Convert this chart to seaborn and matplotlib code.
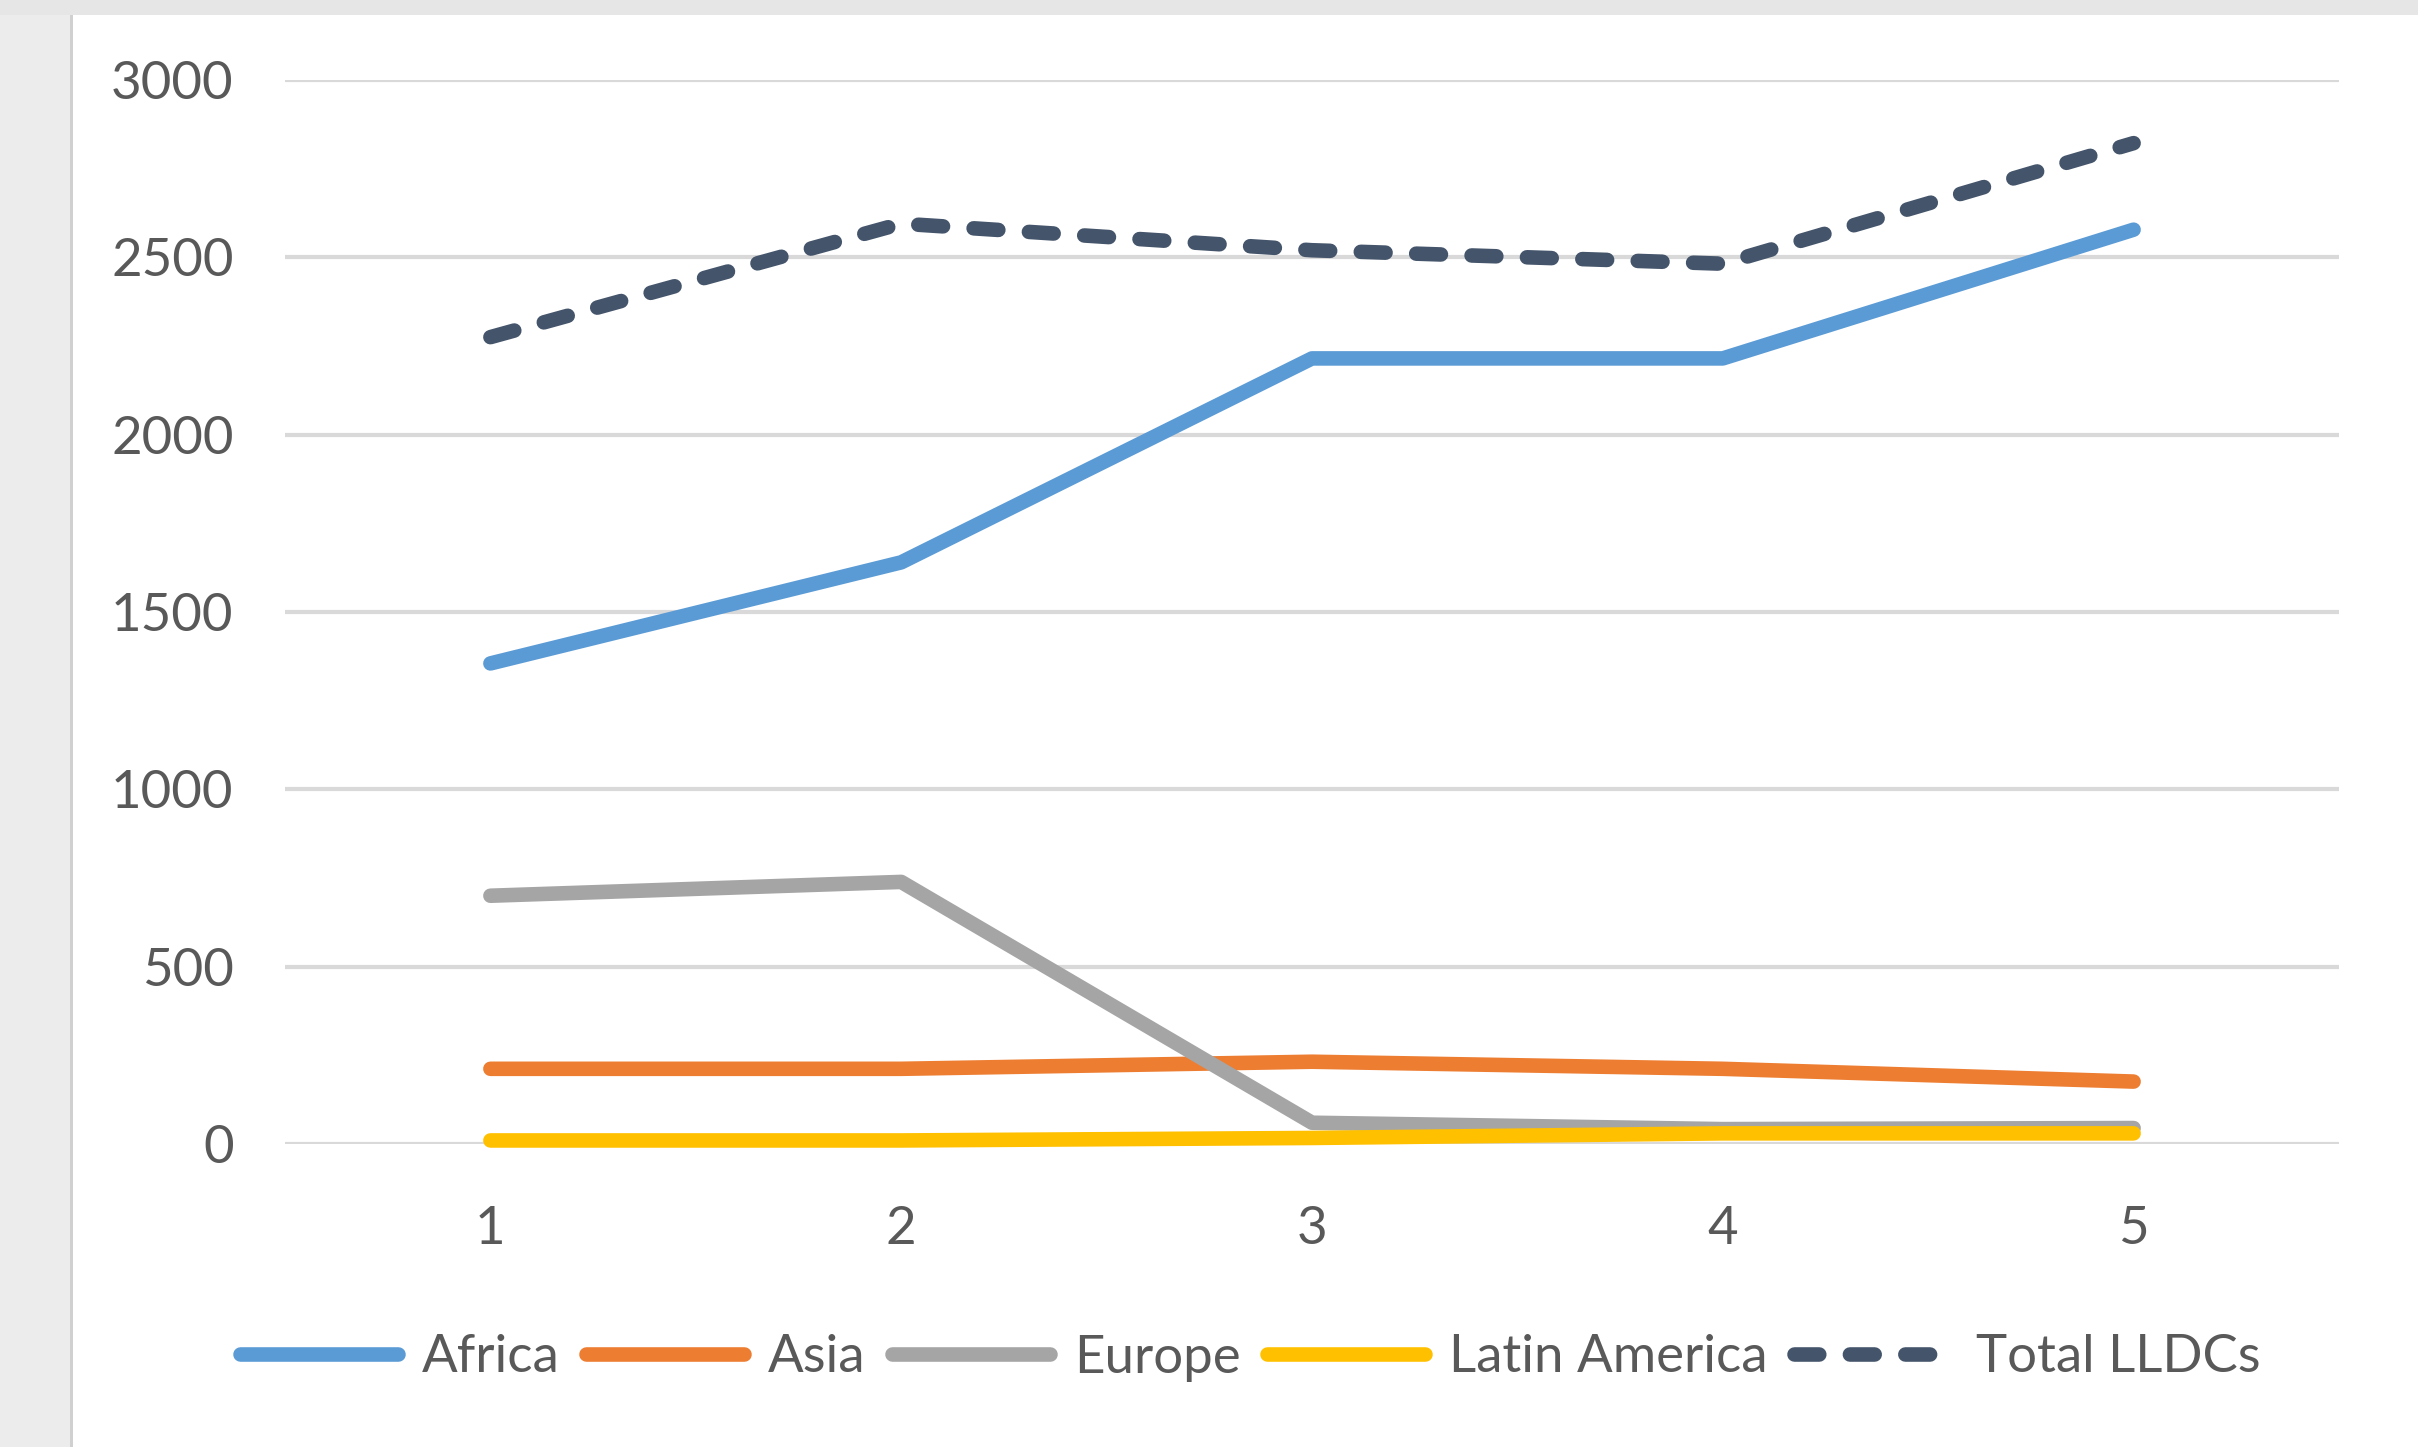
import matplotlib
matplotlib.use("Agg")
import matplotlib.pyplot as plt
import seaborn as sns
import pandas as pd
from matplotlib.patches import Rectangle
from matplotlib.lines import Line2D

periods = [1, 2, 3, 4, 5]
africa = [1355, 1640, 2215, 2215, 2578]
asia = [212, 212, 232, 212, 176]
europe = [700, 739, 60, 42, 45]
latin_america = [10, 10, 17, 30, 30]
total_lldcs = [2275, 2595, 2520, 2482, 2822]
series_names = ["Africa", "Asia", "Europe", "Latin America", "Total LLDCs"]
colors = ["#5b9bd5", "#ed7d31", "#a5a5a5", "#ffc000", "#44546a"]
y_ticks = [0, 500, 1000, 1500, 2000, 2500, 3000]

rows = []
for name, vals in zip(series_names, [africa, asia, europe, latin_america, total_lldcs]):
    for p, v in zip(periods, vals):
        rows.append({"period": p, "value": v, "series": name})
df = pd.DataFrame(rows)

sns.set_theme(style="white")
plt.rcParams['font.family'] = ['Lato', 'DejaVu Sans']

LW = 10.5
DASH = (1.7, 2.1)

fig = plt.figure(figsize=(24.18, 14.47), dpi=100)
fig.patch.set_facecolor("white")
# frame decorations
fig.add_artist(Rectangle((0, 0), 70/2418, 1, transform=fig.transFigure, facecolor="#ececec", edgecolor="none", zorder=0))
fig.add_artist(Rectangle((70/2418, 0), 3/2418, 1 - 15/1447, transform=fig.transFigure, facecolor="#d0d0d0", edgecolor="none", zorder=0))
fig.add_artist(Rectangle((0, 1 - 15/1447), 1, 15/1447, transform=fig.transFigure, facecolor="#e6e6e6", edgecolor="none", zorder=0))

ax = fig.add_axes([285/2418, 1 - 1144/1447, (2339 - 285)/2418, (1144 - 80)/1447])
ax.set_facecolor("none")

palette = dict(zip(series_names, colors))
dashes = {n: "" for n in series_names}
dashes["Total LLDCs"] = DASH
sns.lineplot(data=df, x="period", y="value", hue="series", style="series",
             palette=palette, dashes=dashes, linewidth=LW, ax=ax, legend=False,
             zorder=3)
for ln in ax.get_lines():
    ln.set_clip_on(False)
    ln.set_solid_capstyle("round")
    ln.set_dash_capstyle("round")
    ln.set_solid_joinstyle("round")

ax.set_xlim(0.5, 5.5)
ax.set_ylim(0, 3000)
ax.set_yticks(y_ticks)
ax.set_xticks(periods)
ax.set_xticklabels([str(p) for p in periods])
ax.set_yticklabels([str(t) for t in y_ticks])
ax.grid(axis="y", color="#d9d9d9", linewidth=3, zorder=0)
ax.set_axisbelow(True)
for s in ax.spines.values():
    s.set_visible(False)
ax.tick_params(axis="both", length=0, labelsize=38, colors="#595959")
ax.tick_params(axis="y", pad=37)
ax.tick_params(axis="x", pad=45)
ax.set_xlabel("")
ax.set_ylabel("")

handles = []
for n, c in zip(series_names, colors):
    if n == "Total LLDCs":
        h = Line2D([], [], color=c, linewidth=LW, linestyle=(0, DASH), dash_capstyle="round")
    else:
        h = Line2D([], [], color=c, linewidth=LW, solid_capstyle="round")
    handles.append(h)
fig.legend(handles, series_names, loc="center", bbox_to_anchor=(1250/2418, 1 - 1358/1447),
           ncol=5, frameon=False, fontsize=38, handlelength=3.0, handletextpad=0.45,
           columnspacing=0.5, labelcolor="#595959")

fig.savefig("out.png", dpi=100, facecolor="white")
